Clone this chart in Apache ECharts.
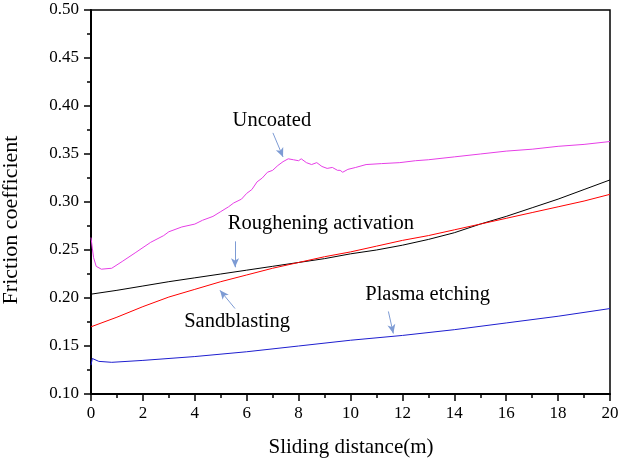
<!DOCTYPE html>
<html>
<head>
<meta charset="utf-8">
<script src="https://cdn.jsdelivr.net/npm/echarts@6/dist/echarts.min.js"></script>
<style>
html,body{margin:0;padding:0;background:#fff;}
#chart{width:624px;height:464px;}
</style>
</head>
<body>
<div id="chart"></div>
<script>
// ---- data ----
const xTitle = 'Sliding distance(m)';
const yTitle = 'Friction coefficient';

const uncoated = [
  [0,0.263],[0.05,0.252],[0.1,0.242],[0.2,0.233],[0.4,0.230],[0.8,0.231],[1.2,0.238],[1.7,0.247],
  [2.3,0.258],[2.8,0.265],[3.0,0.269],[3.5,0.274],[4.0,0.277],[4.3,0.281],[4.7,0.285],[5.0,0.290],
  [5.3,0.295],[5.5,0.299],[5.8,0.303],[6.0,0.309],[6.2,0.313],[6.4,0.321],[6.6,0.325],[6.8,0.331],
  [7.0,0.333],[7.2,0.338],[7.4,0.342],[7.6,0.345],[7.8,0.344],[8.0,0.343],[8.1,0.345],[8.3,0.341],
  [8.5,0.339],[8.7,0.341],[8.9,0.337],[9.1,0.335],[9.3,0.336],[9.5,0.333],[9.6,0.333],[9.7,0.331],
  [9.9,0.334],[10.2,0.336],[10.6,0.339],[11.2,0.340],[11.9,0.341],[12.5,0.343],[13.0,0.344],
  [14.0,0.347],[15.0,0.350],[16.0,0.353],[17.0,0.355],[18.0,0.358],[19.0,0.360],[20.0,0.363]
];
const roughening = [
  [0,0.204],[1,0.208],[2,0.2125],[3,0.217],[4,0.221],[5,0.225],[6,0.229],[7,0.233],[8,0.237],
  [9,0.241],[10,0.246],[11,0.250],[12,0.255],[13,0.261],[14,0.268],[15,0.277],[16,0.285],
  [17,0.294],[18,0.303],[19,0.313],[20,0.323]
];
const sandblasting = [
  [0,0.170],[1,0.180],[2,0.191],[3,0.201],[4,0.209],[5,0.217],[6,0.224],[7,0.231],[8,0.237],
  [9,0.243],[10,0.248],[11,0.254],[12,0.260],[13,0.265],[14,0.271],[15,0.277],[16,0.283],
  [17,0.289],[18,0.295],[19,0.301],[20,0.308]
];
const plasma = [
  [0,0.130],[0.05,0.137],[0.3,0.134],[0.8,0.133],[2,0.135],[4,0.139],[6,0.144],[8,0.150],
  [10,0.156],[12,0.161],[14,0.167],[16,0.174],[18,0.181],[20,0.189]
];

// annotation texts: [x, y, text]
const labels = [
  [6.97, 0.385, 'Uncoated'],
  [8.86, 0.278, 'Roughening activation'],
  [5.63, 0.175, 'Sandblasting'],
  [12.97, 0.204, 'Plasma etching']
];
// annotation arrows: [[x1,y1],[x2,y2]]
const arrows = [
  [[7.01, 0.372], [7.40, 0.347]],
  [[5.55, 0.259], [5.55, 0.232]],
  [[5.55, 0.189], [4.97, 0.208]],
  [[11.46, 0.186], [11.65, 0.163]]
];

const SERIF = 'Liberation Serif';
const chart = echarts.init(document.getElementById('chart'));

function lineSeries(name, data, color) {
  return {
    name, type: 'line', data, showSymbol: false, symbol: 'none',
    lineStyle: { color, width: 1 }, itemStyle: { color },
    animation: false, z: 3
  };
}

chart.setOption({
  animation: false,
  textStyle: { fontFamily: SERIF },
  grid: { left: 91, right: 14, top: 10, bottom: 70, show: true, borderColor: '#000', borderWidth: 1.5, backgroundColor: 'transparent' },
  xAxis: {
    type: 'value', min: 0, max: 20, interval: 2,
    axisLine: { lineStyle: { color: '#000', width: 2 }, onZero: false },
    axisTick: { inside: false, length: 7, lineStyle: { color: '#000', width: 1.5 } },
    minorTick: { show: true, splitNumber: 2, length: 4, lineStyle: { color: '#000', width: 1.5 } },
    splitLine: { show: false },
    axisLabel: { color: '#000', fontFamily: SERIF, fontSize: 17, margin: 11 }
  },
  yAxis: {
    type: 'value', min: 0.1, max: 0.5, interval: 0.05,
    axisLine: { show: true, lineStyle: { color: '#000', width: 2 }, onZero: false },
    axisTick: { show: true, inside: false, length: 7, lineStyle: { color: '#000', width: 1.5 } },
    minorTick: { show: true, splitNumber: 2, length: 4, lineStyle: { color: '#000', width: 1.5 } },
    splitLine: { show: false },
    axisLabel: { color: '#000', fontFamily: SERIF, fontSize: 17, margin: 12, formatter: v => v.toFixed(2) }
  },
  series: [
    lineSeries('Uncoated', uncoated, '#e63ee6'),
    lineSeries('Roughening activation', roughening, '#000000'),
    lineSeries('Sandblasting', sandblasting, '#ff0000'),
    lineSeries('Plasma etching', plasma, '#1e1ecf'),
    {
      name: 'annotations', type: 'scatter', symbolSize: 0, animation: false, silent: true,
      itemStyle: { opacity: 1 },
      data: labels.map(l => ({ value: [l[0], l[1]], name: l[2] })),
      label: {
        show: true, position: 'inside', formatter: p => p.name,
        color: '#000', opacity: 1, fontFamily: SERIF, fontSize: 20.5
      },
      markLine: {
        silent: true, animation: false, symbol: ['none', 'arrow'], symbolSize: [6, 9],
        label: { show: false },
        lineStyle: { color: '#7d9bd4', width: 1, type: 'solid', opacity: 1 },
        data: arrows.map(a => [{ coord: a[0] }, { coord: a[1] }])
      }
    }
  ],
  graphic: [
    {
      type: 'text', x: 11, y: 220, rotation: Math.PI / 2,
      style: { text: yTitle, fill: '#000', font: "22px 'Liberation Serif'", textAlign: 'center', textVerticalAlign: 'middle' }
    },
    {
      type: 'text', x: 351, y: 447,
      style: { text: xTitle, fill: '#000', font: "21px 'Liberation Serif'", textAlign: 'center', textVerticalAlign: 'middle' }
    }
  ]
});
</script>
</body>
</html>
